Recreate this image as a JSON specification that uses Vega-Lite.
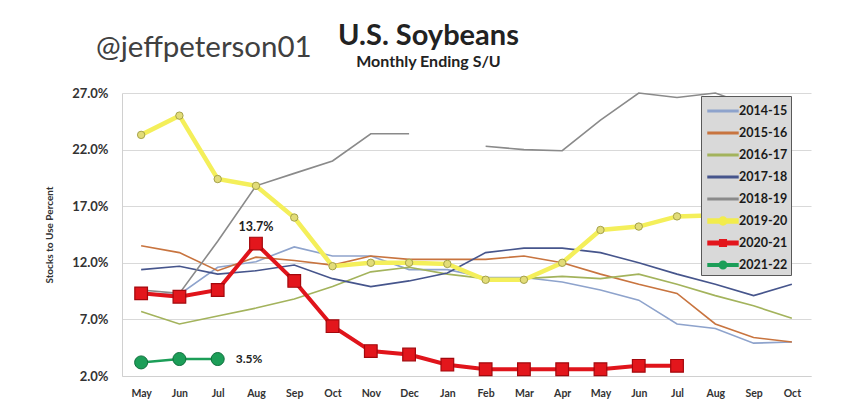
{
  "$schema": "https://vega.github.io/schema/vega-lite/v6.json",
  "autosize": {"type": "pad"},
  "padding": {"left": 44, "top": 22, "right": 23, "bottom": 22},
  "background": "white",
  "title": {
    "text": "@jeffpeterson01",
    "anchor": "start",
    "frame": "group",
    "font": "Lato",
    "fontSize": 29.5,
    "fontWeight": "normal",
    "color": "#404040",
    "dx": -26,
    "dy": 45
  },
  "config": {
    "font": "Lato",
    "view": {"stroke": null},
    "axis": {
      "labelFont": "Lato",
      "labelFontWeight": "bold",
      "labelFontSize": 10.5,
      "labelColor": "#333333",
      "domainColor": "#d0d0d0",
      "ticks": false,
      "gridColor": "#d9d9d9",
      "titleFont": "Lato",
      "titleFontWeight": "bold",
      "titleColor": "#333333"
    }
  },
  "hconcat": [
    {
      "width": 689,
      "height": 283,
      "title": {
        "text": "U.S. Soybeans",
        "subtitle": "Monthly Ending S/U",
        "anchor": "middle",
        "frame": "group",
        "font": "Lato",
        "fontSize": 29,
        "fontWeight": "bold",
        "color": "#222222",
        "subtitleFont": "Lato",
        "subtitleFontSize": 16,
        "subtitleFontWeight": "bold",
        "subtitleColor": "#222222",
        "subtitlePadding": 3,
        "offset": 17,
        "dx": -38
      },
      "data": {
        "values": [
          {"s": "2014-15", "m": 0, "v": 0.093}, {"s": "2014-15", "m": 1, "v": 0.092}, {"s": "2014-15", "m": 2, "v": 0.116},
          {"s": "2014-15", "m": 3, "v": 0.121}, {"s": "2014-15", "m": 4, "v": 0.134}, {"s": "2014-15", "m": 5, "v": 0.126},
          {"s": "2014-15", "m": 6, "v": 0.126}, {"s": "2014-15", "m": 7, "v": 0.114}, {"s": "2014-15", "m": 8, "v": 0.114},
          {"s": "2014-15", "m": 9, "v": 0.107}, {"s": "2014-15", "m": 10, "v": 0.107}, {"s": "2014-15", "m": 11, "v": 0.103},
          {"s": "2014-15", "m": 12, "v": 0.096}, {"s": "2014-15", "m": 13, "v": 0.087}, {"s": "2014-15", "m": 14, "v": 0.066},
          {"s": "2014-15", "m": 15, "v": 0.062}, {"s": "2014-15", "m": 16, "v": 0.049}, {"s": "2014-15", "m": 17, "v": 0.050},

          {"s": "2015-16", "m": 0, "v": 0.135}, {"s": "2015-16", "m": 1, "v": 0.129}, {"s": "2015-16", "m": 2, "v": 0.113},
          {"s": "2015-16", "m": 3, "v": 0.125}, {"s": "2015-16", "m": 4, "v": 0.122}, {"s": "2015-16", "m": 5, "v": 0.118},
          {"s": "2015-16", "m": 6, "v": 0.126}, {"s": "2015-16", "m": 7, "v": 0.123}, {"s": "2015-16", "m": 8, "v": 0.123},
          {"s": "2015-16", "m": 9, "v": 0.123}, {"s": "2015-16", "m": 10, "v": 0.126}, {"s": "2015-16", "m": 11, "v": 0.120},
          {"s": "2015-16", "m": 12, "v": 0.110}, {"s": "2015-16", "m": 13, "v": 0.101}, {"s": "2015-16", "m": 14, "v": 0.093},
          {"s": "2015-16", "m": 15, "v": 0.066}, {"s": "2015-16", "m": 16, "v": 0.054}, {"s": "2015-16", "m": 17, "v": 0.050},

          {"s": "2016-17", "m": 0, "v": 0.077}, {"s": "2016-17", "m": 1, "v": 0.066}, {"s": "2016-17", "m": 2, "v": 0.073},
          {"s": "2016-17", "m": 3, "v": 0.080}, {"s": "2016-17", "m": 4, "v": 0.088}, {"s": "2016-17", "m": 5, "v": 0.099},
          {"s": "2016-17", "m": 6, "v": 0.112}, {"s": "2016-17", "m": 7, "v": 0.116}, {"s": "2016-17", "m": 8, "v": 0.110},
          {"s": "2016-17", "m": 9, "v": 0.106}, {"s": "2016-17", "m": 10, "v": 0.106}, {"s": "2016-17", "m": 11, "v": 0.108},
          {"s": "2016-17", "m": 12, "v": 0.106}, {"s": "2016-17", "m": 13, "v": 0.110}, {"s": "2016-17", "m": 14, "v": 0.101},
          {"s": "2016-17", "m": 15, "v": 0.091}, {"s": "2016-17", "m": 16, "v": 0.082}, {"s": "2016-17", "m": 17, "v": 0.071},

          {"s": "2017-18", "m": 0, "v": 0.114}, {"s": "2017-18", "m": 1, "v": 0.117}, {"s": "2017-18", "m": 2, "v": 0.110},
          {"s": "2017-18", "m": 3, "v": 0.113}, {"s": "2017-18", "m": 4, "v": 0.118}, {"s": "2017-18", "m": 5, "v": 0.106},
          {"s": "2017-18", "m": 6, "v": 0.099}, {"s": "2017-18", "m": 7, "v": 0.104}, {"s": "2017-18", "m": 8, "v": 0.111},
          {"s": "2017-18", "m": 9, "v": 0.129}, {"s": "2017-18", "m": 10, "v": 0.133}, {"s": "2017-18", "m": 11, "v": 0.133},
          {"s": "2017-18", "m": 12, "v": 0.129}, {"s": "2017-18", "m": 13, "v": 0.120}, {"s": "2017-18", "m": 14, "v": 0.110},
          {"s": "2017-18", "m": 15, "v": 0.101}, {"s": "2017-18", "m": 16, "v": 0.091}, {"s": "2017-18", "m": 17, "v": 0.101},

          {"s": "2018-19", "m": 0, "v": 0.096}, {"s": "2018-19", "m": 1, "v": 0.093}, {"s": "2018-19", "m": 2, "v": 0.139},
          {"s": "2018-19", "m": 3, "v": 0.188}, {"s": "2018-19", "m": 4, "v": 0.199}, {"s": "2018-19", "m": 5, "v": 0.210},
          {"s": "2018-19", "m": 6, "v": 0.234}, {"s": "2018-19", "m": 7, "v": 0.234}, {"s": "2018-19", "m": 8, "v": null},
          {"s": "2018-19", "m": 9, "v": 0.223}, {"s": "2018-19", "m": 10, "v": 0.220}, {"s": "2018-19", "m": 11, "v": 0.219},
          {"s": "2018-19", "m": 12, "v": 0.246}, {"s": "2018-19", "m": 13, "v": 0.270}, {"s": "2018-19", "m": 14, "v": 0.266},
          {"s": "2018-19", "m": 15, "v": 0.270}, {"s": "2018-19", "m": 16, "v": 0.258},

          {"s": "2019-20", "m": 0, "v": 0.233}, {"s": "2019-20", "m": 1, "v": 0.250}, {"s": "2019-20", "m": 2, "v": 0.194},
          {"s": "2019-20", "m": 3, "v": 0.188}, {"s": "2019-20", "m": 4, "v": 0.160}, {"s": "2019-20", "m": 5, "v": 0.117},
          {"s": "2019-20", "m": 6, "v": 0.120}, {"s": "2019-20", "m": 7, "v": 0.120}, {"s": "2019-20", "m": 8, "v": 0.119},
          {"s": "2019-20", "m": 9, "v": 0.105}, {"s": "2019-20", "m": 10, "v": 0.105}, {"s": "2019-20", "m": 11, "v": 0.120},
          {"s": "2019-20", "m": 12, "v": 0.149}, {"s": "2019-20", "m": 13, "v": 0.152}, {"s": "2019-20", "m": 14, "v": 0.161},
          {"s": "2019-20", "m": 15, "v": 0.162},

          {"s": "2020-21", "m": 0, "v": 0.093}, {"s": "2020-21", "m": 1, "v": 0.090}, {"s": "2020-21", "m": 2, "v": 0.096},
          {"s": "2020-21", "m": 3, "v": 0.137}, {"s": "2020-21", "m": 4, "v": 0.104}, {"s": "2020-21", "m": 5, "v": 0.064},
          {"s": "2020-21", "m": 6, "v": 0.042}, {"s": "2020-21", "m": 7, "v": 0.039}, {"s": "2020-21", "m": 8, "v": 0.030},
          {"s": "2020-21", "m": 9, "v": 0.026}, {"s": "2020-21", "m": 10, "v": 0.026}, {"s": "2020-21", "m": 11, "v": 0.026},
          {"s": "2020-21", "m": 12, "v": 0.026}, {"s": "2020-21", "m": 13, "v": 0.029}, {"s": "2020-21", "m": 14, "v": 0.029},

          {"s": "2021-22", "m": 0, "v": 0.032}, {"s": "2021-22", "m": 1, "v": 0.035}, {"s": "2021-22", "m": 2, "v": 0.035}
        ]
      },
      "encoding": {
        "x": {
          "field": "m",
          "type": "quantitative",
          "scale": {"domain": [-0.5, 17.5], "nice": false, "zero": false},
          "axis": {
            "title": null,
            "grid": false,
            "values": [0, 1, 2, 3, 4, 5, 6, 7, 8, 9, 10, 11, 12, 13, 14, 15, 16, 17],
            "labelExpr": "['May','Jun','Jul','Aug','Sep','Oct','Nov','Dec','Jan','Feb','Mar','Apr','May','Jun','Jul','Aug','Sep','Oct'][datum.value]",
            "labelPadding": 12,
            "labelFlush": false
          }
        },
        "y": {
          "field": "v",
          "type": "quantitative",
          "scale": {"domain": [0.02, 0.27], "nice": false, "zero": false},
          "axis": {
            "title": "Stocks to Use Percent",
            "titleFontSize": 10,
            "titlePadding": 17,
            "format": ".1%",
            "values": [0.02, 0.07, 0.12, 0.17, 0.22, 0.27],
            "grid": true,
            "labelFontSize": 13,
            "labelPadding": 14
          }
        }
      },
      "layer": [
        {
          "transform": [{"filter": "indexof(['2014-15','2015-16','2016-17','2017-18','2018-19'], datum.s) >= 0"}],
          "mark": {"type": "line", "strokeWidth": 1.6},
          "encoding": {
            "color": {
              "field": "s",
              "type": "nominal",
              "scale": {
                "domain": ["2014-15", "2015-16", "2016-17", "2017-18", "2018-19", "2019-20", "2020-21", "2021-22"],
                "range": ["#8ea3cc", "#c8743f", "#a3b35c", "#46558c", "#8a8a8a", "#f2ec4c", "#e3151c", "#1c9e58"]
              }
            }
          }
        },
        {
          "transform": [{"filter": "datum.s == '2019-20'"}],
          "mark": {"type": "line", "strokeWidth": 4.5, "color": "#f4ef5a"},
          "encoding": {}
        },
        {
          "transform": [{"filter": "datum.s == '2019-20'"}],
          "mark": {"type": "point", "shape": "circle", "size": 55, "filled": true, "fill": "#e2dc78", "stroke": "#a5a24a", "strokeWidth": 1, "opacity": 1},
          "encoding": {}
        },
        {
          "transform": [{"filter": "datum.s == '2020-21'"}],
          "mark": {"type": "line", "strokeWidth": 4, "color": "#e0141b"},
          "encoding": {}
        },
        {
          "transform": [{"filter": "datum.s == '2020-21'"}],
          "mark": {"type": "point", "shape": "square", "size": 160, "filled": true, "fill": "#e3161c", "stroke": "#a3080d", "strokeWidth": 1.2, "opacity": 1},
          "encoding": {}
        },
        {
          "transform": [{"filter": "datum.s == '2021-22'"}],
          "mark": {"type": "line", "strokeWidth": 2.5, "color": "#1c9e58"},
          "encoding": {}
        },
        {
          "transform": [{"filter": "datum.s == '2021-22'"}],
          "mark": {"type": "point", "shape": "circle", "size": 170, "filled": true, "fill": "#1c9e58", "stroke": "#10703d", "strokeWidth": 1, "opacity": 1},
          "encoding": {}
        },
        {
          "transform": [{"filter": "datum.s == '2020-21' && datum.m == 3"}],
          "mark": {"type": "text", "font": "Lato", "fontWeight": "bold", "fontSize": 12.5, "color": "#222222", "dy": -17},
          "encoding": {"text": {"field": "v", "type": "quantitative", "format": ".1%"}}
        },
        {
          "transform": [{"filter": "datum.s == '2021-22' && datum.m == 2"}],
          "mark": {"type": "text", "font": "Lato", "fontWeight": "bold", "fontSize": 12, "color": "#222222", "align": "left", "dx": 18},
          "encoding": {"text": {"field": "v", "type": "quantitative", "format": ".1%"}}
        },
        {
          "data": {"values": []},
          "mark": {"type": "point", "filled": true, "opacity": 1},
          "encoding": {
            "x": {"field": "m", "type": "quantitative"},
            "y": {"field": "v", "type": "quantitative"},
            "color": {
              "field": "s",
              "type": "nominal",
              "scale": {
                "domain": ["2014-15", "2015-16", "2016-17", "2017-18", "2018-19", "2019-20", "2020-21", "2021-22"],
                "range": ["#8ea3cc", "#c8743f", "#a3b35c", "#46558c", "#8a8a8a", "#f2ec4c", "#e3151c", "#1c9e58"]
              },
              "legend": {
                "title": null,
                "orient": "none",
                "legendX": 579,
                "legendY": 3,
                "fillColor": "#d9d9d9",
                "strokeColor": "#595959",
                "padding": 3,
                "symbolSize": 484,
                "symbolType": "circle",
                "rowPadding": 3,
                "labelFont": "Lato",
                "labelFontWeight": "bold",
                "labelFontSize": 12.5,
                "labelColor": "#1a1a1a",
                "labelOffset": 4,
                "symbolOffset": 7,
                "encode": {
                  "symbols": {
                    "update": {
                      "fill": {"scale": "color", "field": "value"},
                      "stroke": {"value": "transparent"},
                      "strokeWidth": {"value": 0},
                      "opacity": {"value": 1}
                    }
                  }
                }
              }
            },
            "shape": {
              "field": "s",
              "type": "nominal",
              "scale": {
                "domain": ["2014-15", "2015-16", "2016-17", "2017-18", "2018-19", "2019-20", "2020-21", "2021-22"],
                "range": [
                  "M-1.36,-0.07H1.36V0.07H-1.36Z",
                  "M-1.36,-0.07H1.36V0.07H-1.36Z",
                  "M-1.36,-0.07H1.36V0.07H-1.36Z",
                  "M-1.36,-0.07H1.36V0.07H-1.36Z",
                  "M-1.36,-0.07H1.36V0.07H-1.36Z",
                  "M-1.36,-0.18H1.36V0.18H-1.36Z M0.36,0A0.36,0.36 0 1,1 -0.36,0A0.36,0.36 0 1,1 0.36,0Z",
                  "M-1.36,-0.17H1.36V0.17H-1.36Z M-0.3,-0.3H0.3V0.3H-0.3Z",
                  "M-1.36,-0.11H1.36V0.11H-1.36Z M0.34,0A0.34,0.34 0 1,1 -0.34,0A0.34,0.34 0 1,1 0.34,0Z"
                ]
              },
              "legend": {
                "title": null,
                "orient": "none",
                "legendX": 579,
                "legendY": 3
              }
            }
          }
        }
      ]
    }
  ]
}
